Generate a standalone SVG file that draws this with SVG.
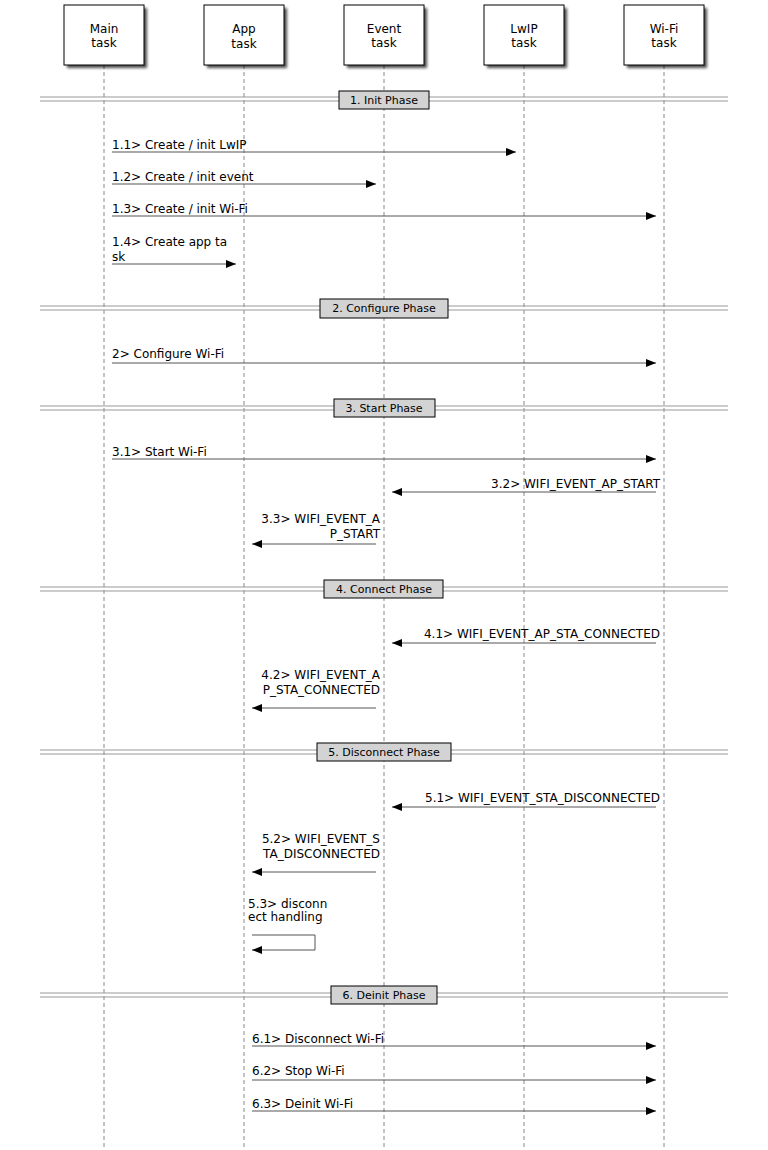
<svg xmlns="http://www.w3.org/2000/svg" width="768" height="1150" viewBox="0 0 768 1150">
<defs>
<marker id="ah" viewBox="0 0 10 8" refX="10" refY="4" markerWidth="10" markerHeight="8" markerUnits="userSpaceOnUse" orient="auto"><path d="M0,0 L10,4 L0,8 z" fill="#000"/></marker>
<filter id="sh" x="-20%" y="-20%" width="150%" height="150%"><feGaussianBlur stdDeviation="1.5"/></filter>
</defs>
<style>
text{font-family:"DejaVu Sans",sans-serif;fill:#000}
.actor rect.b{fill:#fff;stroke:#000;stroke-width:1}
.actor rect.s{fill:#000;opacity:0.7;filter:url(#sh)}
.actor text{font-size:12px;text-anchor:middle}
.life{stroke:#888;stroke-width:1;stroke-dasharray:4,3}
.sep line{stroke:#999;stroke-width:1}
.sep rect{fill:#d3d3d3;stroke:#000;stroke-width:1}
.sep text{font-size:11px;text-anchor:middle}
.msg{stroke:#555;stroke-width:1;fill:none;marker-end:url(#ah)}
.lbl{font-size:12px}
.r{text-anchor:end}
</style>
<rect width="768" height="1150" fill="#fff"/>
<g id="lifelines">
<line class="life" x1="104" y1="65" x2="104" y2="1150"/>
<line class="life" x1="244" y1="65" x2="244" y2="1150"/>
<line class="life" x1="384" y1="65" x2="384" y2="1150"/>
<line class="life" x1="524" y1="65" x2="524" y2="1150"/>
<line class="life" x1="664" y1="65" x2="664" y2="1150"/>
</g>
<g id="main" class="actor"><rect class="s" x="67" y="8" width="80" height="60"/><rect class="b" x="64" y="5" width="80" height="60"/><text x="104" y="33">Main</text><text x="104" y="47">task</text></g>
<g id="app" class="actor"><rect class="s" x="207" y="8" width="80" height="60"/><rect class="b" x="204" y="5" width="80" height="60"/><text x="244" y="33">App</text><text x="244" y="48">task</text></g>
<g id="event" class="actor"><rect class="s" x="347" y="8" width="80" height="60"/><rect class="b" x="344" y="5" width="80" height="60"/><text x="384" y="33">Event</text><text x="384" y="47">task</text></g>
<g id="lwip" class="actor"><rect class="s" x="487" y="8" width="80" height="60"/><rect class="b" x="484" y="5" width="80" height="60"/><text x="524" y="33">LwIP</text><text x="524" y="47">task</text></g>
<g id="wifi" class="actor"><rect class="s" x="627" y="8" width="80" height="60"/><rect class="b" x="624" y="5" width="80" height="60"/><text x="664" y="33">Wi-Fi</text><text x="664" y="47">task</text></g>

<g id="phase1" class="sep"><line x1="40" y1="97" x2="728" y2="97"/><line x1="40" y1="101" x2="728" y2="101"/><rect x="339" y="91" width="90" height="18"/><text x="384" y="104">1. Init Phase</text></g>
<g id="phase2" class="sep"><line x1="40" y1="306" x2="728" y2="306"/><line x1="40" y1="310" x2="728" y2="310"/><rect x="320" y="299" width="128" height="19"/><text x="384" y="312">2. Configure Phase</text></g>
<g id="phase3" class="sep"><line x1="40" y1="406" x2="728" y2="406"/><line x1="40" y1="410" x2="728" y2="410"/><rect x="334" y="399" width="101" height="18"/><text x="384" y="412">3. Start Phase</text></g>
<g id="phase4" class="sep"><line x1="40" y1="587" x2="728" y2="587"/><line x1="40" y1="591" x2="728" y2="591"/><rect x="324" y="580" width="119" height="18"/><text x="384" y="593">4. Connect Phase</text></g>
<g id="phase5" class="sep"><line x1="40" y1="750" x2="728" y2="750"/><line x1="40" y1="754" x2="728" y2="754"/><rect x="317" y="743" width="134" height="18"/><text x="384" y="756">5. Disconnect Phase</text></g>
<g id="phase6" class="sep"><line x1="40" y1="993" x2="728" y2="993"/><line x1="40" y1="997" x2="728" y2="997"/><rect x="331" y="986" width="106" height="18"/><text x="384" y="999">6. Deinit Phase</text></g>

<g id="connectors">
<line class="msg" x1="112" y1="152" x2="516" y2="152"/>
<line class="msg" x1="112" y1="184" x2="376" y2="184"/>
<line class="msg" x1="112" y1="216" x2="656" y2="216"/>
<line class="msg" x1="112" y1="264" x2="236" y2="264"/>
<line class="msg" x1="112" y1="363" x2="656" y2="363"/>
<line class="msg" x1="112" y1="459" x2="656" y2="459"/>
<line class="msg" x1="656" y1="492" x2="392" y2="492"/>
<line class="msg" x1="376" y1="544" x2="252" y2="544"/>
<line class="msg" x1="656" y1="643" x2="392" y2="643"/>
<line class="msg" x1="376" y1="708" x2="252" y2="708"/>
<line class="msg" x1="656" y1="807" x2="392" y2="807"/>
<line class="msg" x1="376" y1="872" x2="252" y2="872"/>
<path class="msg" d="M252,935 H315 V950 H252"/>
<line class="msg" x1="252" y1="1046" x2="656" y2="1046"/>
<line class="msg" x1="252" y1="1080" x2="656" y2="1080"/>
<line class="msg" x1="252" y1="1111" x2="656" y2="1111"/>
</g>
<g id="labels" class="lbl">
<text class="lbl" x="112" y="149">1.1&gt; Create / init LwIP</text>
<text class="lbl" x="112" y="181">1.2&gt; Create / init event</text>
<text class="lbl" x="112" y="213">1.3&gt; Create / init Wi-Fi</text>
<text class="lbl" x="112" y="246">1.4&gt; Create app ta</text>
<text class="lbl" x="112" y="261">sk</text>
<text class="lbl" x="112" y="358">2&gt; Configure Wi-Fi</text>
<text class="lbl" x="112" y="456">3.1&gt; Start Wi-Fi</text>
<text class="lbl r" x="660" y="488">3.2&gt; WIFI_EVENT_AP_START</text>
<text class="lbl r" x="380" y="523">3.3&gt; WIFI_EVENT_A</text>
<text class="lbl r" x="380" y="538">P_START</text>
<text class="lbl r" x="660" y="638">4.1&gt; WIFI_EVENT_AP_STA_CONNECTED</text>
<text class="lbl r" x="380" y="679">4.2&gt; WIFI_EVENT_A</text>
<text class="lbl r" x="380" y="694">P_STA_CONNECTED</text>
<text class="lbl r" x="660" y="802">5.1&gt; WIFI_EVENT_STA_DISCONNECTED</text>
<text class="lbl r" x="380" y="843">5.2&gt; WIFI_EVENT_S</text>
<text class="lbl r" x="380" y="858">TA_DISCONNECTED</text>
<text class="lbl" x="248" y="908">5.3&gt; disconn</text>
<text class="lbl" x="248" y="921">ect handling</text>
<text class="lbl" x="252" y="1043">6.1&gt; Disconnect Wi-Fi</text>
<text class="lbl" x="252" y="1075">6.2&gt; Stop Wi-Fi</text>
<text class="lbl" x="252" y="1108">6.3&gt; Deinit Wi-Fi</text>
</g>
</svg>
